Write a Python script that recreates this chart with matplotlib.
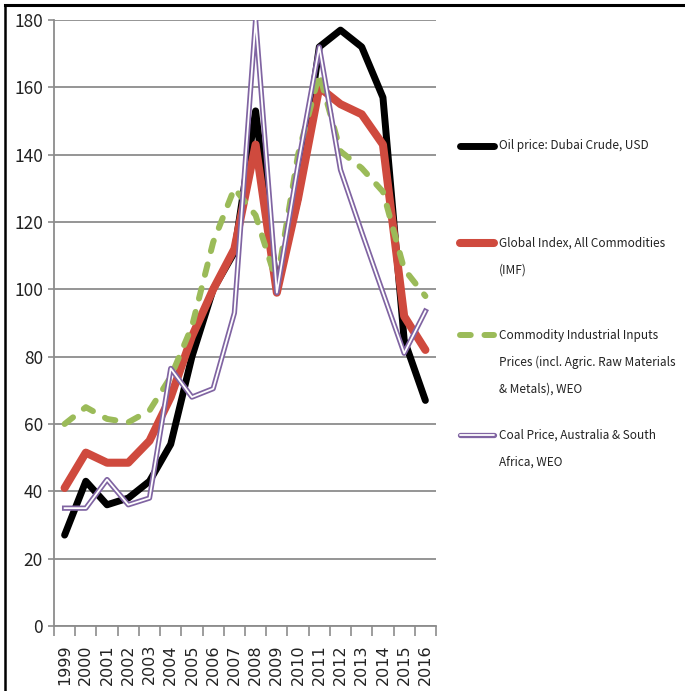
import numpy as np
import matplotlib.pyplot as plt
import matplotlib.patheffects as pe
from matplotlib.lines import Line2D

# data (index values)
years = ["1999", "2000", "2001", "2002", "2003", "2004", "2005", "2006", "2007",
         "2008", "2009", "2010", "2011", "2012", "2013", "2014", "2015", "2016"]
oil = [27, 43, 36, 38, 43, 54, 80, 100, 111, 153, 100, 127, 172, 177, 172, 157, 85, 67]
glob_idx = [41, 51.5, 48.5, 48.5, 55, 68, 86, 100, 112, 143, 99, 127, 160, 155, 152, 143, 92, 82]
industrial = [60, 65, 61.5, 60.5, 64, 74, 89, 114, 130, 122, 102, 140, 164, 141, 136, 129, 106, 98]
coal = [35, 35, 43.5, 36, 38, 76.5, 68, 70.5, 93, 180, 99, 137, 172, 135.5, 117, 99, 81, 93.5]

labels = ["Oil price: Dubai Crude, USD",
          "Global Index, All Commodities\n(IMF)",
          "Commodity Industrial Inputs\nPrices (incl. Agric. Raw Materials\n& Metals), WEO",
          "Coal Price, Australia & South\nAfrica, WEO"]

BLACK = "#000000"
RED = "#cf4a3e"
GREEN = "#9bbb59"
PURPLE = "#8064a2"
GRID = "#8c8c8c"
FONT = ["Noto Sans CJK JP", "DejaVu Sans"]

W, H = 685, 691
fig = plt.figure(figsize=(W / 100, H / 100), dpi=100)
ax = fig.add_axes([54 / W, 1 - 626 / H, (436 - 54) / W, (626 - 20) / H])

x = np.arange(len(years))
ax.plot(x, oil, color=BLACK, lw=5, solid_joinstyle="round", solid_capstyle="round")
ax.plot(x, glob_idx, color=RED, lw=5.8, solid_joinstyle="round", solid_capstyle="round")
ax.plot(x, industrial, color=GREEN, lw=4.3, dashes=(1.8, 2.3),
        dash_capstyle="round", dash_joinstyle="round")
coal_fx = [pe.Stroke(linewidth=3.8, foreground=PURPLE), pe.Normal()]
ax.plot(x, coal, color="white", lw=1.3, path_effects=coal_fx)

ax.set_xlim(-0.5, len(years) - 0.5)
ax.set_ylim(0, 180)
ax.set_yticks(range(0, 181, 20))
ax.yaxis.grid(True, color=GRID, lw=1.3)
ax.set_axisbelow(True)

for s in ["top", "right"]:
    ax.spines[s].set_visible(False)
for s in ["left", "bottom"]:
    ax.spines[s].set_color(GRID)
    ax.spines[s].set_linewidth(1.3)

ax.set_xticks(x)
ax.set_xticklabels(years, rotation=90, fontsize=11.5, family="DejaVu Sans", color="#222222")
ax.set_xticks(np.arange(-0.5, len(years), 1), minor=True)
ax.tick_params(axis="x", which="major", length=0, pad=13)
ax.tick_params(axis="x", which="minor", length=7, color=GRID, width=1.2)
ax.tick_params(axis="y", length=4, color=GRID, width=1.2, pad=4, labelsize=12.5)
for t in ax.get_yticklabels():
    t.set_family(FONT)
    t.set_color("#222222")

# legend drawn by hand to follow the original spacing
rows = [146, 243, 335, 435]
handles = [dict(color=BLACK, lw=5),
           dict(color=RED, lw=5.8),
           dict(color=GREEN, lw=4.3, dashes=(1.8, 2.3), dash_capstyle="round"),
           dict(color="white", lw=1.3, path_effects=coal_fx)]
for y0, lab, hk in zip(rows, labels, handles):
    fy = 1 - y0 / H
    fig.add_artist(Line2D([460 / W, 494 / W], [fy, fy], transform=fig.transFigure,
                          solid_capstyle="round", **hk))
    for i, line in enumerate(lab.split("\n")):
        fig.text(499 / W, 1 - (y0 + 27 * i) / H, line, family=FONT, fontsize=8.5,
                 color="#222222", va="center", ha="left")

# frame lines at top and left of the picture
fig.add_artist(Line2D([5 / W, 1], [1 - 5 / H, 1 - 5 / H], color="black", lw=2.2,
                      transform=fig.transFigure))
fig.add_artist(Line2D([5 / W, 5 / W], [0, 1 - 5 / H], color="black", lw=1.8,
                      transform=fig.transFigure))

fig.savefig("out.png", dpi=100)
